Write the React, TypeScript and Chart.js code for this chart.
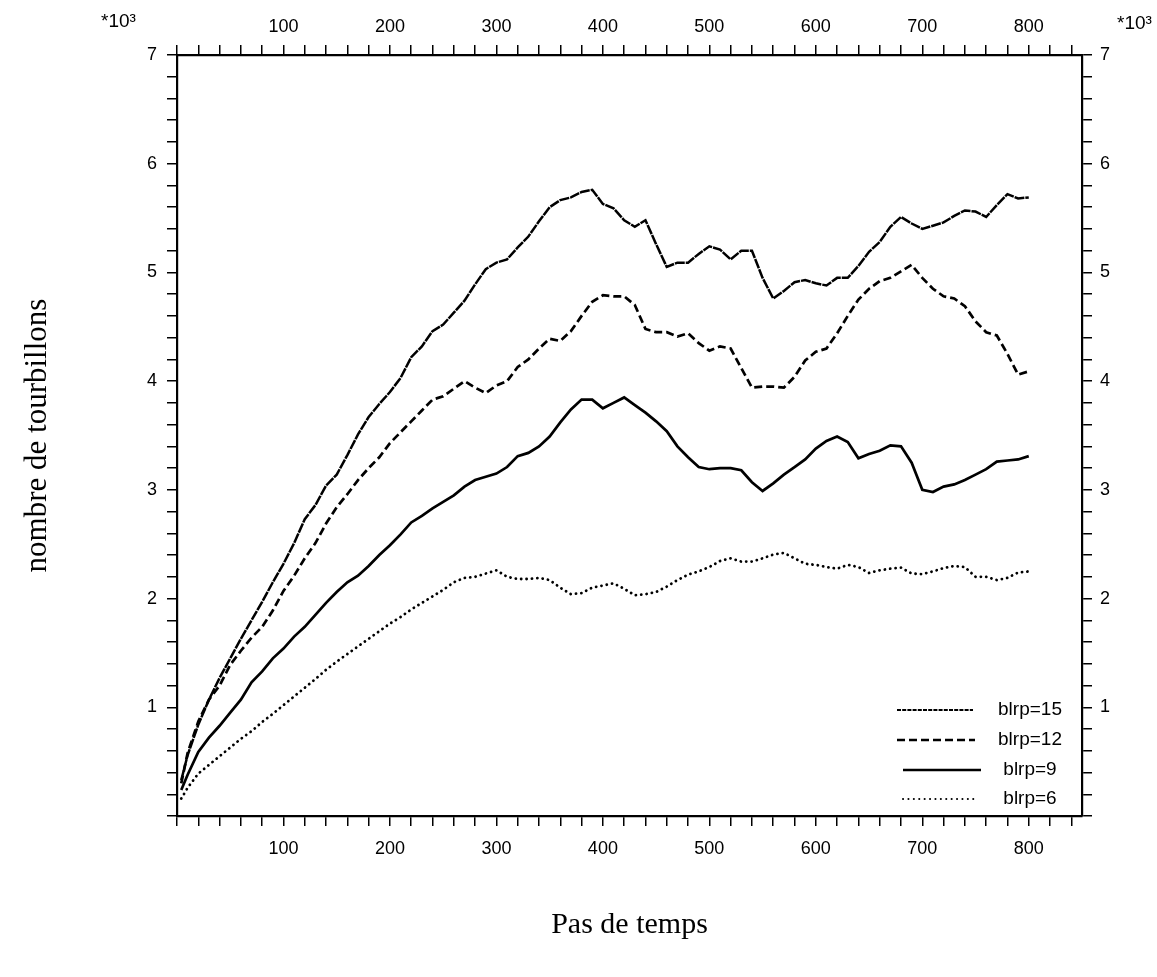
import React, { useEffect, useRef } from 'react';
import { Chart, registerables } from 'chart.js';

Chart.register(...registerables);

// ---- data (x = time step, y = vortex count in thousands) ----
const steps = [4, 10, 20, 30, 40, 50, 60, 70, 80, 90, 100, 110, 120, 130, 140, 150, 160, 170, 180, 190, 200,
  210, 220, 230, 240, 250, 260, 270, 280, 290, 300, 310, 320, 330, 340, 350, 360, 370, 380, 390, 400,
  410, 420, 430, 440, 450, 460, 470, 480, 490, 500, 510, 520, 530, 540, 550, 560, 570, 580, 590, 600,
  610, 620, 630, 640, 650, 660, 670, 680, 690, 700, 710, 720, 730, 740, 750, 760, 770, 780, 790, 800];

const blrp15 = [0.33, 0.56, 0.84, 1.07, 1.27, 1.45, 1.63, 1.80, 1.97, 2.15, 2.32, 2.51, 2.73, 2.86, 3.04, 3.14, 3.32, 3.51, 3.67, 3.79, 3.90,
  4.03, 4.22, 4.32, 4.46, 4.52, 4.63, 4.74, 4.89, 5.03, 5.09, 5.12, 5.23, 5.33, 5.47, 5.60, 5.665, 5.69, 5.74, 5.76, 5.63,
  5.59, 5.48, 5.42, 5.48, 5.26, 5.05, 5.09, 5.09, 5.17, 5.24, 5.21, 5.12, 5.20, 5.20, 4.95, 4.76, 4.83, 4.91, 4.93, 4.90,
  4.88, 4.95, 4.95, 5.06, 5.19, 5.28, 5.42, 5.51, 5.45, 5.40, 5.43, 5.46, 5.52, 5.57, 5.56, 5.51, 5.62, 5.72, 5.68, 5.69];

const blrp12 = [0.30, 0.58, 0.87, 1.07, 1.20, 1.39, 1.52, 1.64, 1.74, 1.89, 2.07, 2.21, 2.37, 2.51, 2.69, 2.84, 2.96, 3.09, 3.20, 3.30, 3.43,
  3.53, 3.63, 3.73, 3.83, 3.86, 3.93, 4.00, 3.94, 3.89, 3.96, 4.00, 4.13, 4.20, 4.30, 4.39, 4.37, 4.46, 4.60, 4.73, 4.79,
  4.78, 4.78, 4.70, 4.48, 4.45, 4.45, 4.41, 4.44, 4.35, 4.28, 4.32, 4.30, 4.12, 3.94, 3.95, 3.95, 3.94, 4.04, 4.19, 4.27,
  4.30, 4.44, 4.60, 4.75, 4.85, 4.92, 4.95, 5.01, 5.07, 4.95, 4.85, 4.78, 4.76, 4.69, 4.55, 4.45, 4.42, 4.25, 4.06, 4.09];

const blrp9 = [0.24, 0.38, 0.59, 0.72, 0.83, 0.95, 1.07, 1.23, 1.33, 1.45, 1.54, 1.65, 1.74, 1.85, 1.96, 2.06, 2.15, 2.21, 2.30, 2.40, 2.49,
  2.59, 2.70, 2.76, 2.83, 2.89, 2.95, 3.03, 3.09, 3.12, 3.15, 3.21, 3.31, 3.34, 3.40, 3.49, 3.62, 3.74, 3.83, 3.83, 3.75,
  3.80, 3.85, 3.78, 3.71, 3.63, 3.54, 3.40, 3.30, 3.21, 3.19, 3.20, 3.20, 3.18, 3.07, 2.99, 3.06, 3.14, 3.21, 3.28, 3.38,
  3.45, 3.49, 3.44, 3.29, 3.33, 3.36, 3.41, 3.40, 3.25, 3.00, 2.98, 3.03, 3.05, 3.09, 3.14, 3.19, 3.26, 3.27, 3.28, 3.31];

const blrp6 = [0.16, 0.26, 0.39, 0.47, 0.55, 0.63, 0.71, 0.78, 0.865, 0.94, 1.02, 1.10, 1.18, 1.26, 1.345, 1.42, 1.49, 1.56, 1.63, 1.70, 1.77,
  1.83, 1.90, 1.96, 2.02, 2.08, 2.15, 2.19, 2.20, 2.23, 2.26, 2.20, 2.18, 2.18, 2.19, 2.17, 2.10, 2.04, 2.05, 2.10, 2.12,
  2.14, 2.09, 2.03, 2.04, 2.06, 2.11, 2.17, 2.22, 2.25, 2.29, 2.345, 2.37, 2.34, 2.34, 2.37, 2.405, 2.42, 2.37, 2.32, 2.31,
  2.29, 2.275, 2.31, 2.29, 2.235, 2.26, 2.275, 2.285, 2.23, 2.225, 2.25, 2.28, 2.30, 2.29, 2.20, 2.20, 2.17, 2.19, 2.24, 2.25];

const seriesLabels = ['blrp=15', 'blrp=12', 'blrp=9', 'blrp=6'];
const xTickLabels = ['100', '200', '300', '400', '500', '600', '700', '800'];
const yTickLabels = ['1', '2', '3', '4', '5', '6', '7'];
const scaleNote = '*10³';
const xTitle = 'Pas de temps';
const yTitle = 'nombre de tourbillons';

const SANS = '"Liberation Sans", Arial, Helvetica, sans-serif';
const SERIF = '"Liberation Serif", "Times New Roman", Times, serif';

function pickLabel(v: number, labels: string[]) {
  const r = Math.round(v);
  if (Math.abs(v - r) > 1e-6) return '';
  const s = String(r);
  return labels.includes(s) ? s : '';
}

const legendPlugin = {
  id: 'boxLegend',
  afterDatasetsDraw(chart: any) {
    const { ctx, chartArea } = chart;
    const rowOffsets = [106, 76, 46, 17];
    const lineStart = [185, 185, 179, 179];
    const lineEnd = [109, 107, 101, 104];
    const legendDash = [[4, 1.2], null, null, null];
    const legendWidth = [2, null, null, 2];
    ctx.save();
    chart.data.datasets.forEach((ds: any, i: number) => {
      const y = chartArea.bottom - rowOffsets[i];
      ctx.strokeStyle = '#000';
      ctx.lineWidth = legendWidth[i] ?? ds.borderWidth;
      ctx.lineCap = ds.borderCapStyle || 'butt';
      ctx.setLineDash(legendDash[i] ?? ds.borderDash ?? []);
      ctx.beginPath();
      ctx.moveTo(chartArea.right - lineStart[i], y);
      ctx.lineTo(chartArea.right - lineEnd[i], y);
      ctx.stroke();
      ctx.setLineDash([]);
      ctx.fillStyle = '#000';
      ctx.font = `19px ${SANS}`;
      ctx.textAlign = 'center';
      ctx.textBaseline = 'middle';
      ctx.fillText(ds.label, chartArea.right - 52, y);
    });
    ctx.restore();
  },
};

const notePlugin = {
  id: 'scaleNote',
  afterDraw(chart: any) {
    const { ctx, chartArea } = chart;
    ctx.save();
    ctx.fillStyle = '#000';
    ctx.font = `19px ${SANS}`;
    ctx.textBaseline = 'middle';
    ctx.textAlign = 'left';
    ctx.fillText(scaleNote, chartArea.left - 76, 22);
    ctx.fillText(scaleNote, chartArea.right + 35, 24);
    ctx.restore();
  },
};

function axisGrid() {
  return { drawOnChartArea: false, drawTicks: true, tickLength: 10, color: '#000', lineWidth: 1.5 };
}
function axisBorder() {
  return { display: true, color: '#000', width: 2.2 };
}

export default function App() {
  const ref = useRef<HTMLCanvasElement | null>(null);

  useEffect(() => {
    if (!ref.current) return;
    const styles = [
      { borderWidth: 2.5, borderDash: [10, 1], borderCapStyle: 'butt' },
      { borderWidth: 2.7, borderDash: [8, 4], borderCapStyle: 'butt' },
      { borderWidth: 2.7, borderDash: [], borderCapStyle: 'butt' },
      { borderWidth: 2.8, borderDash: [0.1, 5.3], borderCapStyle: 'round' },
    ];
    const series = [blrp15, blrp12, blrp9, blrp6];
    const datasets = series.map((s, i) => ({
      label: seriesLabels[i],
      data: steps.map((x, j) => ({ x, y: s[j] })),
      borderColor: '#000',
      backgroundColor: '#000',
      pointRadius: 0,
      tension: 0,
      fill: false,
      ...styles[i],
    }));

    const tickFont = { family: SANS, size: 18 };
    const xTicks = (padding: number) => ({
      stepSize: 20, autoSkip: false, maxRotation: 0, minRotation: 0, includeBounds: false,
      padding, color: '#000', font: tickFont,
      callback: (v: any) => pickLabel(Number(v), xTickLabels),
    });
    const yTicks = (padding: number) => ({
      stepSize: 0.2, autoSkip: false, includeBounds: false,
      padding, color: '#000', font: tickFont,
      callback: (v: any) => pickLabel(Number(v), yTickLabels),
    });

    const chart = new Chart(ref.current, {
      type: 'line',
      data: { datasets },
      plugins: [legendPlugin, notePlugin],
      options: {
        animation: false,
        responsive: false,
        maintainAspectRatio: false,
        devicePixelRatio: 1,
        layout: { padding: 0 },
        plugins: { legend: { display: false }, tooltip: { enabled: false } },
        scales: {
          x: {
            type: 'linear', position: 'bottom', min: 0, max: 850,
            grid: axisGrid(), border: axisBorder(), ticks: xTicks(12),
            title: { display: true, text: xTitle, color: '#000', font: { family: SERIF, size: 30 }, padding: { top: 0, bottom: 34 } },
            afterFit: (s: any) => { s.height = 161; },
          },
          x2: {
            type: 'linear', position: 'top', min: 0, max: 850,
            grid: axisGrid(), border: axisBorder(), ticks: xTicks(7),
            afterFit: (s: any) => { s.height = 55; },
          },
          y: {
            type: 'linear', position: 'left', min: 0, max: 7,
            grid: axisGrid(), border: axisBorder(), ticks: yTicks(10),
            title: { display: true, text: yTitle, color: '#000', font: { family: SERIF, size: 31 }, padding: { top: 19, bottom: 0 } },
            afterFit: (s: any) => { s.width = 177; },
          },
          y2: {
            type: 'linear', position: 'right', min: 0, max: 7,
            grid: axisGrid(), border: axisBorder(), ticks: yTicks(8),
            afterFit: (s: any) => { s.width = 75; },
          },
        },
      } as any,
    });
    return () => chart.destroy();
  }, []);

  return (
    <div style={{ position: 'fixed', left: 0, top: 0, width: 1157, height: 977, background: '#fff' }}>
      <canvas ref={ref} width={1157} height={977} style={{ display: 'block', width: 1157, height: 977 }} />
    </div>
  );
}
